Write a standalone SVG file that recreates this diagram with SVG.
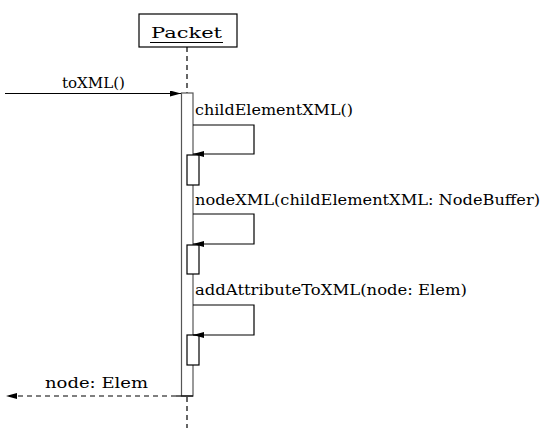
<svg xmlns="http://www.w3.org/2000/svg" width="546" height="432" viewBox="0 0 546 432">
<defs>
<marker id="ah" markerWidth="11" markerHeight="6" refX="11" refY="3" orient="auto" markerUnits="userSpaceOnUse">
<path d="M0,0 L11,3 L0,6 Z" fill="#000"/>
</marker>
<style>
text{font-family:"DejaVu Serif","Liberation Serif",serif;font-size:14px;fill:#000}
.ln{stroke:#000;stroke-width:1.2;fill:none}
.box{stroke:#000;stroke-width:1.2;fill:#fff}
.bar{stroke:#555;stroke-width:1.2;fill:#fff}
.dash{stroke:#000;stroke-width:1.2;stroke-dasharray:5,4;fill:none}
</style>
</defs>
<rect width="546" height="432" fill="#fff"/>
<g id="packet">
<rect x="139" y="14" width="98" height="33" class="box"/>
<text x="151" y="38" textLength="71" lengthAdjust="spacingAndGlyphs">Packet</text>
<line x1="150" y1="42.5" x2="223" y2="42.5" class="ln"/>
<line x1="187" y1="47" x2="187" y2="93" class="dash"/>
<line x1="187" y1="397" x2="187" y2="428" class="dash"/>
<rect x="181.5" y="93" width="11.5" height="303" class="bar"/>
</g>
<g id="activations">
<rect x="187" y="155" width="12" height="30" class="box"/>
<rect x="187" y="245" width="12" height="29" class="box"/>
<rect x="187" y="335" width="12" height="30" class="box"/>
</g>
<g id="connectors">
<line x1="5" y1="93.5" x2="181" y2="93.5" class="ln" marker-end="url(#ah)"/>
<text x="62" y="88" textLength="63" lengthAdjust="spacingAndGlyphs">toXML()</text>
<polyline points="193,125 254,125 254,154 193,154" class="ln" marker-end="url(#ah)"/>
<text x="195" y="115" textLength="158" lengthAdjust="spacingAndGlyphs">childElementXML()</text>
<polyline points="193,214 254,214 254,244 193,244" class="ln" marker-end="url(#ah)"/>
<text x="195" y="205" textLength="345" lengthAdjust="spacingAndGlyphs">nodeXML(childElementXML: NodeBuffer)</text>
<polyline points="193,305 254,305 254,335 193,335" class="ln" marker-end="url(#ah)"/>
<text x="195" y="295" textLength="272" lengthAdjust="spacingAndGlyphs">addAttributeToXML(node: Elem)</text>
<line x1="176" y1="396" x2="6" y2="396" class="dash" marker-end="url(#ah)"/>
<line x1="176" y1="396" x2="193" y2="396" class="ln"/>
<text x="45" y="388" textLength="103" lengthAdjust="spacingAndGlyphs">node: Elem</text>
</g>
</svg>
